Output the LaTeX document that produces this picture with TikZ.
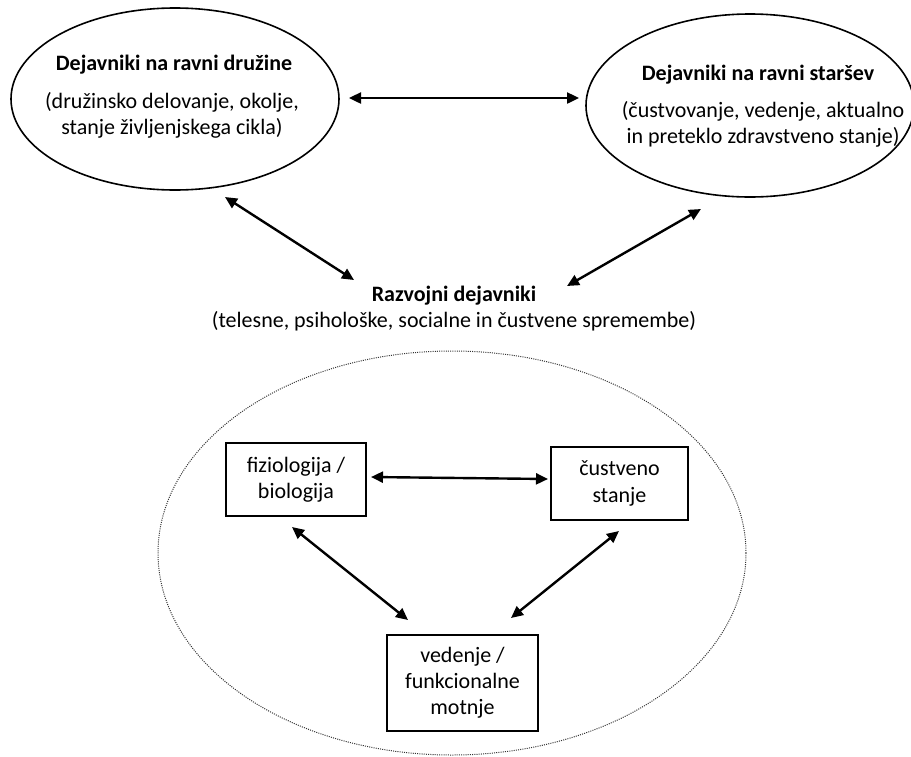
\documentclass[tikz,border=0pt]{standalone}
\usepackage{fontspec}
\setmainfont{Carlito}
\usetikzlibrary{shapes.geometric,arrows.meta}
\begin{document}
\begin{tikzpicture}[x=1pt,y=-1pt,
  every node/.style={font=\fontsize{22pt}{26.2pt}\selectfont, inner sep=0pt},
  oval/.style={ellipse, draw, line width=1.6pt, inner sep=0pt},
  dotoval/.style={ellipse, draw=black!80, line width=1pt, dash pattern=on 1pt off 1.2pt, inner sep=0pt},
  bx/.style={draw, line width=1.9pt, align=center},
  txt/.style={anchor=base},
  ttl/.style={anchor=base, font=\fontsize{22pt}{26.2pt}\selectfont\bfseries},
  biarrow/.style={{Triangle[length=12pt,width=11pt]}-{Triangle[length=12pt,width=11pt]}, line width=2.4pt}
]
\useasboundingbox (0,0) rectangle (911,756);

% top ellipses
\node[oval, minimum width=328pt, minimum height=182pt] (fam) at (175,99) {};
\node[oval, minimum width=328pt, minimum height=183pt] (par) at (750,105.5) {};

\node[ttl] (famT) at (174,70) {Dejavniki na ravni družine};
\node[txt] (famA) at (172,108) {(družinsko delovanje, okolje,};
\node[txt] (famB) at (172,134) {stanje življenjskega cikla)};

\node[ttl] (parT) at (758,80) {Dejavniki na ravni staršev};
\node[txt] (parA) at (763,117) {(čustvovanje, vedenje, aktualno};
\node[txt] (parB) at (763,143) {in preteklo zdravstveno stanje)};

% development
\node[ttl] (devT) at (454,301) {Razvojni dejavniki};
\node[txt] (devA) at (454,327) {(telesne, psihološke, socialne in čustvene spremembe)};

% dotted ellipse
\node[dotoval, minimum width=588pt, minimum height=404pt] (dev) at (452,553) {};

% boxes
\node[bx, minimum width=140pt, minimum height=73pt] (fiz) at (296,479.5) {fiziologija /\\biologija};
\node[bx, minimum width=137pt, minimum height=73pt] (cus) at (619.5,483.5) {čustveno\\stanje};
\node[bx, minimum width=151pt, minimum height=96pt] (ved) at (462.5,683) {vedenje /\\funkcionalne\\motnje};

% arrow end points
\coordinate (famE) at (349,98);
\coordinate (parW) at (579,98);
\coordinate (famS) at (225,197);
\coordinate (devNW) at (354,280);
\coordinate (parS) at (701,209);
\coordinate (devNE) at (567,286);
\coordinate (fizE) at (371,477);
\coordinate (cusW) at (548,479);
\coordinate (fizS) at (292,527);
\coordinate (vedNW) at (408,620);
\coordinate (cusS) at (619,531);
\coordinate (vedNE) at (511,618);

\draw[biarrow] (famE) -- (parW);
\draw[biarrow] (famS) -- (devNW);
\draw[biarrow] (parS) -- (devNE);
\draw[biarrow] (fizE) -- (cusW);
\draw[biarrow] (fizS) -- (vedNW);
\draw[biarrow] (cusS) -- (vedNE);
\end{tikzpicture}
\end{document}
